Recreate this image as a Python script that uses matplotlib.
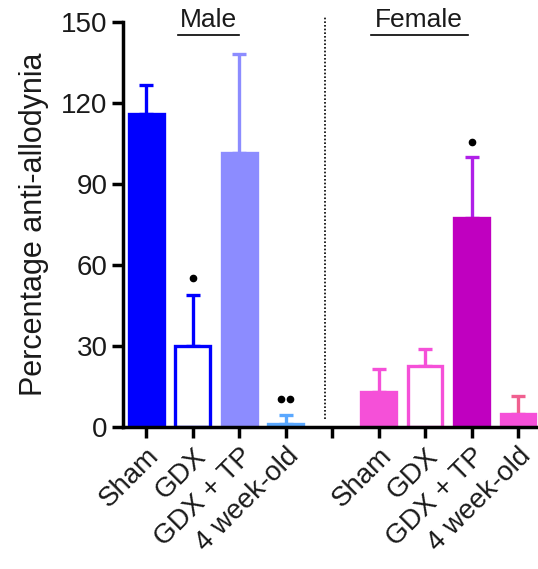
import matplotlib
matplotlib.use("Agg")
import matplotlib.pyplot as plt

plt.rcParams['font.family'] = ['Liberation Sans', 'DejaVu Sans']

# positions 0-3 male, 4 empty, 5-8 female
labels = ['Sham', 'GDX', 'GDX + TP', '4 week-old', '',
          'Sham', 'GDX', 'GDX + TP', '4 week-old']
positions = [0, 1, 2, 3, 5, 6, 7, 8]
values = [116, 30, 101.5, 1.2, 13, 22.7, 77.5, 4.8]
upper = [126.5, 49, 138, 4.4, 21.5, 28.9, 100, 11.5]
fills = ['#0000ff', 'white', '#8c8cff', '#5aa8ff',
         '#f550d8', 'white', '#c000c0', '#f550d8']
edges = ['#0000ff', '#0000ff', '#8c8cff', '#5aa8ff',
         '#f550d8', '#f550d8', '#c000c0', '#f550d8']
err_colors = ['#0000ff', '#0000ff', '#8c8cff', '#5aa8ff',
              '#f550d8', '#f550d8', '#b020e8', '#f06090']
# significance dots: (x, y, count)
sig = [(1, 55, 1), (3, 10.5, 2), (7, 105.5, 1)]

fig = plt.figure(figsize=(5.38, 5.69), dpi=100)
ax = fig.add_axes([0.2286, 0.2496, 0.7714, 0.7117])

for x, v, u, fc, ec, erc in zip(positions, values, upper, fills, edges, err_colors):
    ax.errorbar(x, v, yerr=[[0], [u - v]], color=erc, lw=2.4,
                capsize=5, capthick=2.4, zorder=1)
    ax.bar(x, v, width=0.75, color=fc, edgecolor=ec, linewidth=2.4, zorder=2)

for x, y, n in sig:
    offs = [0] if n == 1 else [-0.1, 0.1]
    for o in offs:
        ax.plot(x + o, y, 'o', color='black', ms=4.5)

ax.plot([3.85, 3.85], [3, 152], ls=(0, (1, 1.2)), color='black', lw=1.2, clip_on=False)

ax.text(1.33, 146.3, 'Male', ha='center', va='bottom', fontsize=19,
        color='#1a1a1a', clip_on=False)
ax.plot([0.69, 2.0], [145.3, 145.3], color='black', lw=1.2, clip_on=False)
ax.text(5.87, 146.3, 'Female', ha='center', va='bottom', fontsize=19,
        color='#1a1a1a', clip_on=False)
ax.plot([4.83, 6.92], [145.3, 145.3], color='black', lw=1.2, clip_on=False)

ax.set_xlim(-0.5, 8.43)
ax.set_ylim(0, 150)
ax.set_yticks([0, 30, 60, 90, 120, 150])
ax.set_xticks(range(9))
ax.set_xticklabels(labels, rotation=45, ha='right', rotation_mode='anchor')
ax.tick_params(axis='both', labelsize=20, width=2.5, length=8, colors='black',
               labelcolor='#1a1a1a')
ax.tick_params(axis='y', pad=3)
ax.set_ylabel('Percentage anti-allodynia', fontsize=22, labelpad=9, color='#1a1a1a')

for s in ['top', 'right']:
    ax.spines[s].set_visible(False)
for s in ['left', 'bottom']:
    ax.spines[s].set_linewidth(2.5)

fig.savefig('out.png', dpi=100)
